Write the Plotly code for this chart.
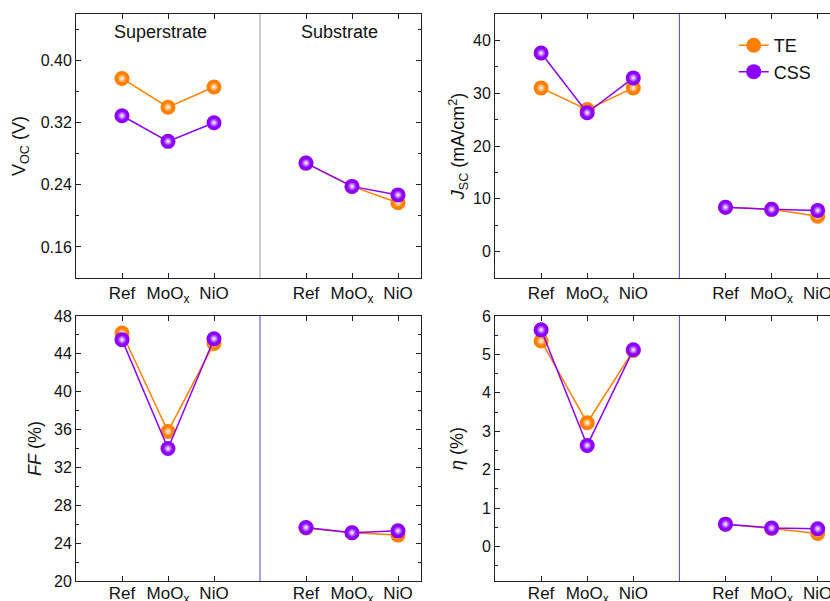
import plotly.graph_objects as go

# ---------------- data ----------------
categories = ["Ref", "MoO<sub>x</sub>", "NiO"]
groups = ["Superstrate", "Substrate"]

voc_te_super = [0.377, 0.340, 0.366]
voc_css_super = [0.329, 0.296, 0.320]
voc_te_sub = [0.268, 0.238, 0.217]
voc_css_sub = [0.268, 0.238, 0.227]

jsc_te_super = [31.0, 26.9, 31.0]
jsc_css_super = [37.6, 26.3, 32.9]
jsc_te_sub = [8.4, 8.0, 6.7]
jsc_css_sub = [8.4, 8.0, 7.8]

ff_te_super = [46.2, 35.8, 45.1]
ff_css_super = [45.5, 34.0, 45.6]
ff_te_sub = [25.6, 25.1, 24.85]
ff_css_sub = [25.65, 25.1, 25.3]

eta_te_super = [5.35, 3.22, 5.10]
eta_css_super = [5.64, 2.63, 5.12]
eta_te_sub = [0.58, 0.47, 0.34]
eta_css_sub = [0.58, 0.48, 0.46]

# --------------- styling ---------------
ORANGE = "#FF8000"
PURPLE = "#8C00FF"
HILITE = "#FFFFFF"
FONT = "Liberation Sans, Arial, sans-serif"

n = len(categories)
x_super = [i + 1 for i in range(n)]
x_sub = [i + n + 2 for i in range(n)]
x_div = n + 1
x_all = x_super + [None] + x_sub
tick_vals = x_super + x_sub
tick_text = categories + categories

fig = go.Figure()

panels = [
    ("x", "y", voc_te_super, voc_te_sub, voc_css_super, voc_css_sub),
    ("x2", "y2", jsc_te_super, jsc_te_sub, jsc_css_super, jsc_css_sub),
    ("x3", "y3", ff_te_super, ff_te_sub, ff_css_super, ff_css_sub),
    ("x4", "y4", eta_te_super, eta_te_sub, eta_css_super, eta_css_sub),
]

for k, (xa, ya, te_sup, te_sub, css_sup, css_sub) in enumerate(panels):
    for name, sup, sub, col in [("TE", te_sup, te_sub, ORANGE),
                                ("CSS", css_sup, css_sub, PURPLE)]:
        yy = sup + [None] + sub
        fig.add_trace(go.Scatter(
            x=x_all, y=yy, xaxis=xa, yaxis=ya,
            mode="lines+markers", name=name, showlegend=(k == 1),
            connectgaps=False,
            line=dict(color=col, width=1.5),
            marker=dict(size=15, color=col, line=dict(width=0)),
        ))
        # sphere highlight (radial: gradient colour is the centre colour)
        fig.add_trace(go.Scatter(
            x=x_all, y=yy, xaxis=xa, yaxis=ya,
            mode="markers", showlegend=False, hoverinfo="skip",
            marker=dict(size=9, color=col, line=dict(width=0),
                        gradient=dict(type="radial", color=HILITE)),
        ))

W, H = 830, 601
left_dom = [76 / W, 421 / W]
right_dom = [495 / W, 1.0]
top_dom = [1 - 278 / H, 1 - 14 / H]
bot_dom = [1 - 581 / H, 1 - 316 / H]

common_x = dict(
    tickmode="array", tickvals=tick_vals, ticktext=tick_text,
    ticks="inside", ticklen=5, tickcolor="#222", showline=True, linecolor="#222",
    linewidth=1, mirror="ticks", showgrid=False, zeroline=False, automargin=False,
    ticklabeloverflow="allow",
    tickfont=dict(family=FONT, size=17, color="#111"),
)
common_y = dict(
    ticks="inside", ticklen=5, tickcolor="#222", showline=True, linecolor="#222",
    linewidth=1, showgrid=False, zeroline=False, automargin=False,
    tickfont=dict(family=FONT, size=16, color="#111"),
    title_font=dict(family=FONT, size=18, color="#111"),
)

fig.update_layout(
    width=W, height=H, margin=dict(l=0, r=0, t=0, b=0, autoexpand=False),
    paper_bgcolor="white", plot_bgcolor="white",
    font=dict(family=FONT, color="#111"),
    xaxis=dict(domain=left_dom, anchor="y", range=[0, 7.5], **common_x),
    yaxis=dict(domain=top_dom, anchor="x", range=[0.12, 0.46], dtick=0.08, tick0=0.0,
               tickformat=".2f", mirror="ticks",
               minor=dict(ticks="inside", ticklen=3, dtick=0.04, tick0=0.0, tickcolor="#222"),
               title=dict(text="V<sub>OC</sub> (V)", standoff=10), **common_y),
    xaxis2=dict(domain=right_dom, anchor="y2", range=[0, 335 / 46.1], **common_x),
    yaxis2=dict(domain=top_dom, anchor="x2", range=[-5, 45], dtick=10, tick0=0, mirror=False,
                minor=dict(ticks="inside", ticklen=3, dtick=5, tick0=0, tickcolor="#222"),
                title=dict(text="<i>J</i><sub>SC</sub> (mA/cm<sup>2</sup>)", standoff=3), **common_y),
    xaxis3=dict(domain=left_dom, anchor="y3", range=[0, 7.5], ticklabelstandoff=-3, **common_x),
    yaxis3=dict(domain=bot_dom, anchor="x3", range=[20, 48], dtick=4, tick0=0, mirror="ticks",
                minor=dict(ticks="inside", ticklen=3, dtick=2, tick0=0, tickcolor="#222"),
                title=dict(text="<i>FF</i> (%)", standoff=7), **common_y),
    xaxis4=dict(domain=right_dom, anchor="y4", range=[0, 335 / 46.1], ticklabelstandoff=-3, **common_x),
    yaxis4=dict(domain=bot_dom, anchor="x4", range=[-0.9, 6], dtick=1, tick0=0, mirror=False,
                minor=dict(ticks="inside", ticklen=3, dtick=0.5, tick0=0, tickcolor="#222"),
                title=dict(text="<i>η</i> (%)", standoff=13), **common_y),
    legend=dict(x=0.884, y=0.955, xanchor="left", yanchor="top",
                bgcolor="rgba(0,0,0,0)", font=dict(family=FONT, size=18, color="#111"),
                tracegroupgap=0),
)

# dividers between superstrate and substrate
div_colors = ["#9a9a9a", "#4444ff", "#4444ff", "#4444ff"]
for (xa, ya, *_), c in zip(panels, div_colors):
    fig.add_shape(type="line", xref=xa, x0=x_div, x1=x_div,
                  yref=f"{ya} domain", y0=0, y1=1, line=dict(color=c, width=1))

# group labels in top-left panel
for gname, gx, sh in zip(groups, [x_super[1], x_sub[1]], [-8, -13]):
    fig.add_annotation(text=gname, xref="x", x=gx, yref="y domain", y=0.93,
                       xanchor="center", yanchor="middle", xshift=sh,
                       showarrow=False, font=dict(family=FONT, size=18, color="#111"))

fig.write_html("out.html", config={"displayModeBar": False},
               post_script="document.body.style.margin='0';")
